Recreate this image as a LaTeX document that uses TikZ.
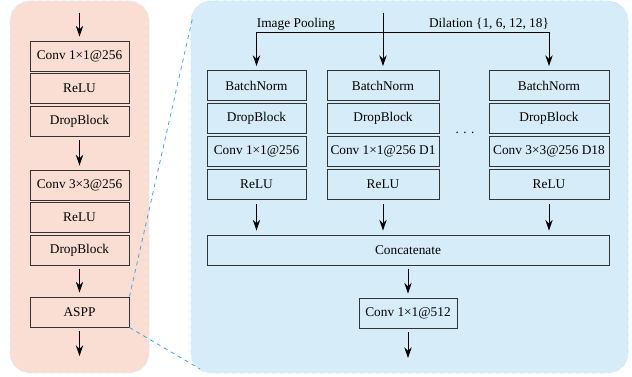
\documentclass[tikz,border=0pt]{standalone}
\usepackage{fontspec}
\setmainfont{Liberation Serif}
\usetikzlibrary{arrows.meta, positioning}
\definecolor{pinkbg}{RGB}{250,222,212}
\definecolor{bluebg}{RGB}{214,236,248}
\definecolor{zoomline}{RGB}{62,168,224}
\tikzset{
  blk/.style={draw=black!80, line width=0.7pt, minimum height=22.5pt, inner sep=0pt},
  tip/.style={-{Stealth[length=8pt,width=5.5pt]}, line width=0.7pt},
  flow/.style={tip, shorten <=3pt, shorten >=3pt},
  feed/.style={tip, shorten >=3pt},
  exit/.style={tip, shorten <=3pt},
  zoomedge/.style={zoomline, dashed, line width=0.6pt}
}
\begin{document}
\begin{tikzpicture}[x=0.75pt,y=-0.75pt,font=\fontsize{10pt}{12pt}\selectfont]
\useasboundingbox (0,0) rectangle (632,377);
\fill[pinkbg, draw=cyan!20, dashed, rounded corners=15pt] (10,1) rectangle (149,373);
\fill[bluebg, draw=cyan!25, dashed, rounded corners=15pt] (191,1) rectangle (628,373);

\coordinate (in) at (79.5,13);
\node[blk, minimum width=74.25pt] (c1) at (79.5,56) {Conv 1×1@256};
\node[blk, minimum width=74.25pt] (r1) at (79.5,88.5) {ReLU};
\node[blk, minimum width=74.25pt] (d1) at (79.5,121) {DropBlock};
\node[blk, minimum width=74.25pt] (c3) at (79.5,185) {Conv 3×3@256};
\node[blk, minimum width=74.25pt] (r3) at (79.5,217.5) {ReLU};
\node[blk, minimum width=74.25pt] (d3) at (79.5,250) {DropBlock};
\node[blk, minimum width=74.25pt] (aspp) at (79.5,312) {ASPP};
\coordinate (out) at (79.5,356);
\draw[feed] (in) -- (c1);
\draw[flow] (d1) -- (c3);
\draw[flow] (d3) -- (aspp);
\draw[exit] (aspp) -- (out);

\coordinate (zt) at (193,16);
\coordinate (zb) at (200,369);
\draw[zoomedge] (aspp.north east) -- (zt);
\draw[zoomedge] (aspp.south east) -- (zb);

\node[blk, minimum width=74.25pt] (bnA) at (256.5,85.5) {BatchNorm};
\node[blk, minimum width=74.25pt] (dbA) at (256.5,118.5) {DropBlock};
\node[blk, minimum width=74.25pt] (cvA) at (256.5,151.5) {Conv 1×1@256};
\node[blk, minimum width=74.25pt] (reA) at (256.5,184.5) {ReLU};
\node[blk, minimum width=84pt] (bnB) at (383,85.5) {BatchNorm};
\node[blk, minimum width=84pt] (dbB) at (383,118.5) {DropBlock};
\node[blk, minimum width=84pt] (cvB) at (383,151.5) {Conv 1×1@256 D1};
\node[blk, minimum width=84pt] (reB) at (383,184.5) {ReLU};
\node[blk, minimum width=90pt] (bnC) at (549,85.5) {BatchNorm};
\node[blk, minimum width=90pt] (dbC) at (549,118.5) {DropBlock};
\node[blk, minimum width=90pt] (cvC) at (549,151.5) {Conv 3×3@256 D18};
\node[blk, minimum width=90pt] (reC) at (549,184.5) {ReLU};
\node (dots) at (465,133) {.\,\,.\,\,.};

\coordinate (top) at (383,13);
\coordinate (split) at (383,32);
\node (pool) at (296,24) {Image Pooling};
\node (dil) at (489,24) {Dilation \{1, 6, 12, 18\}};
\draw[feed] (top) -- (bnB);
\draw[feed] (split) -| (bnA);
\draw[feed] (split) -| (bnC);

\node[blk, minimum width=301.5pt] (cat) at (408,250) {Concatenate};
\draw[flow] (reA) -- (reA |- cat.north);
\draw[flow] (reB) -- (reB |- cat.north);
\draw[flow] (reC) -- (reC |- cat.north);
\node[blk, minimum width=73.5pt] (c512) at (408,313) {Conv 1×1@512};
\coordinate (final) at (408,358);
\draw[flow] (cat) -- (c512);
\draw[exit] (c512) -- (final);
\end{tikzpicture}
\end{document}
